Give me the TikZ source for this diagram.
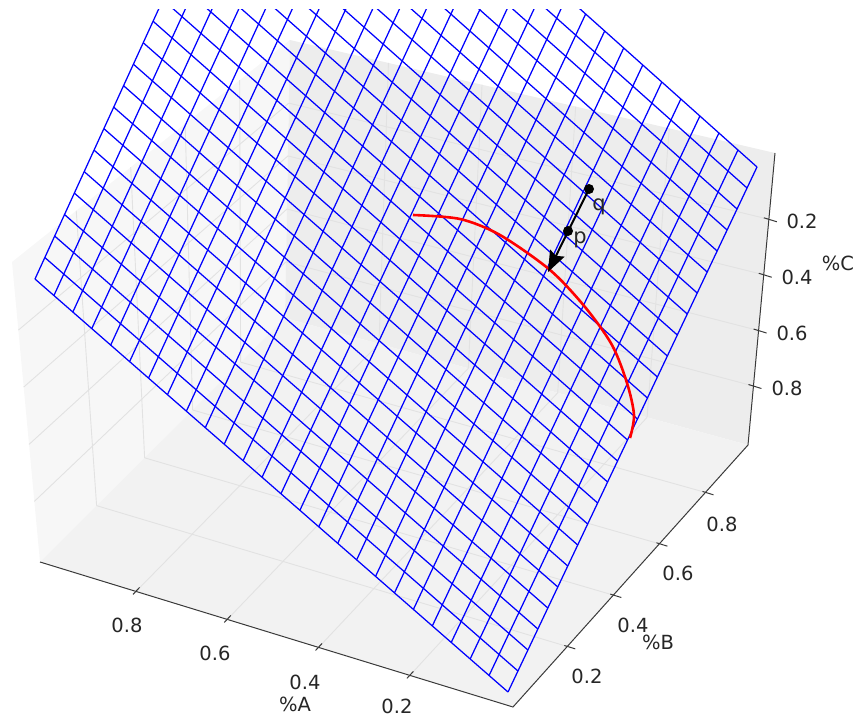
\documentclass[tikz,border=0pt]{standalone}
\usepackage{fontspec}
\setmainfont{DejaVu Sans}
\usetikzlibrary{arrows.meta,calc}
\definecolor{panefl}{HTML}{F2F2F2}
\definecolor{panelw}{HTML}{F7F7F7}
\definecolor{panerw}{HTML}{EDEDED}
\definecolor{gridgr}{HTML}{E2E2E2}
\definecolor{axgr}{HTML}{3A3A3A}

\begin{document}
\begin{tikzpicture}[
  x=1pt, y=-1pt,
  >=Stealth,
  panegrid/.style={draw=gridgr, line width=0.9pt},
  axisline/.style={draw=axgr, line width=1pt},
  tickmark/.style={draw=axgr, line width=1pt},
  ticklbl/.style={font=\fontsize{19.5}{22}\selectfont, inner sep=0pt, text=black!85},
  meshline/.style={draw=blue, line width=1.25pt},
  redarc/.style={draw=red, line width=2.6pt},
  dotn/.style={circle, fill=black, inner sep=0pt, minimum size=10pt}
]
\useasboundingbox (0,0) rectangle (855,717);

% box corners (floor / top)
\coordinate (P1) at (40,562);
\coordinate (P2) at (513,707);
\coordinate (P3) at (748,445);
\coordinate (Q)  at (285,318);
\coordinate (P1t) at (12,262);
\coordinate (P3t) at (775,153);
\coordinate (Qt)  at (290,40);

% panes
\fill[panelw] (P1) -- (Q) -- (Qt) -- (P1t) -- cycle;
\fill[panerw] (Q) -- (P3) -- (P3t) -- (Qt) -- cycle;
\fill[panefl] (P1) -- (P2) -- (P3) -- (Q) -- cycle;

% grid on the panes
\foreach \u in {0.218,0.411,0.604,0.797}{
  \draw[panegrid] ($(P2)!\u!(P1)$) -- ($(P3)!\u!(Q)$);
  \draw[panegrid] ($(P3)!\u!(Q)$) -- ($(P3t)!\u!(Qt)$);
}
\foreach \v in {0.231,0.427,0.623,0.819}{
  \draw[panegrid] ($(P2)!\v!(P3)$) -- ($(P1)!\v!(Q)$);
  \draw[panegrid] ($(P1)!\v!(Q)$) -- ($(P1t)!\v!(Qt)$);
}
\foreach \w in {0.202,0.392,0.583,0.773}{
  \draw[panegrid] ($(P1)!\w!(P1t)$) -- ($(Q)!\w!(Qt)$);
  \draw[panegrid] ($(P3)!\w!(P3t)$) -- ($(Q)!\w!(Qt)$);
}

% axes
\draw[axisline] (P1) -- (P2) -- (P3) -- (P3t);
\foreach \u in {0.218,0.411,0.604,0.797}{
  \draw[tickmark] ($(P2)!\u!(P1)+(-3,3)$) -- ++(6.5,-7);
}
\foreach \v in {0.231,0.427,0.623,0.819}{
  \draw[tickmark] ($(P2)!\v!(P3)+(-3,-1)$) -- ++(11,3.4);
}
\foreach \w in {0.202,0.392,0.583,0.773}{
  \draw[tickmark] ($(P3)!\w!(P3t)+(-5,-1.5)$) -- ++(13,4);
}

\node[ticklbl] (a8) at (127,625) {0.8};
\node[ticklbl] (a6) at (215,653) {0.6};
\node[ticklbl] (a4) at (305,682) {0.4};
\node[ticklbl] (a2) at (397,706) {0.2};
\node[ticklbl] (alab) at (295,704) {\%A};
\node[ticklbl] (b2) at (587,676) {0.2};
\node[ticklbl] (b4) at (633,625) {0.4};
\node[ticklbl] (b6) at (678,573) {0.6};
\node[ticklbl] (b8) at (722,524) {0.8};
\node[ticklbl] (blab) at (658,642) {\%B};
\node[ticklbl] (c2) at (802,221) {0.2};
\node[ticklbl] (c4) at (797,277) {0.4};
\node[ticklbl] (c6) at (792,333) {0.6};
\node[ticklbl] (c8) at (787,388) {0.8};
\node[ticklbl] (clab) at (838,263) {\%C};

% plane mesh
\coordinate (mB) at (508,692);
\coordinate (mL) at (35,279);
\coordinate (mR) at (757,167);
\coordinate (mT) at (281,-258);
\begin{scope}
  \clip (0,10) rectangle (855,717);
  \foreach \i in {0,...,25}{
    \pgfmathsetmacro\s{\i/25}
    \draw[meshline] ($(mB)!\s!(mL)$) -- ($(mR)!\s!(mT)$);
    \draw[meshline] ($(mB)!\s!(mR)$) -- ($(mL)!\s!(mT)$);
  }
\end{scope}

% intersection curve
\draw[redarc] plot[smooth] coordinates {(413,215) (460,219) (500,235) (550,270)
  (585,307) (612,345) (627,383) (634,415) (630,438)};

% projection step
\node[dotn] (q) at (589,189) {};
\node[dotn] (p) at (568,231) {};
\coordinate (tip) at (548,272);
\draw[line width=2pt, -{Stealth[length=21pt,width=16pt,inset=3pt]}] (q.center) -- (tip);
\node[ticklbl, font=\fontsize{21}{24}\selectfont] (qlab) at (599,207) {q};
\node[ticklbl, font=\fontsize{21}{24}\selectfont] (plab) at (580,240) {p};
\end{tikzpicture}
\end{document}
